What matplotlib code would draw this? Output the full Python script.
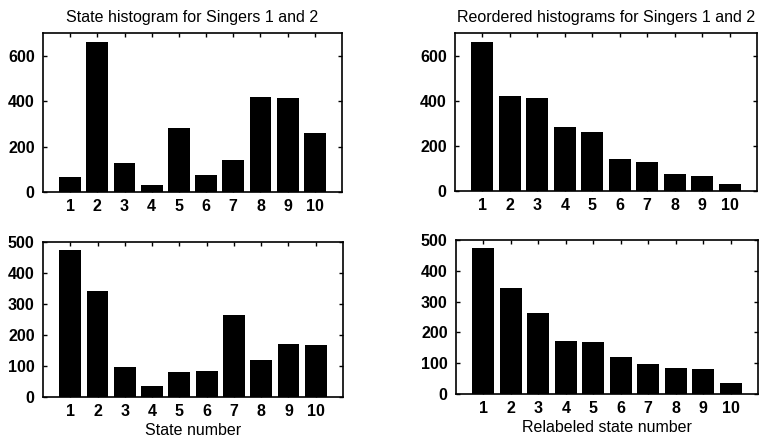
import numpy as np
import matplotlib
matplotlib.use("Agg")
import matplotlib.pyplot as plt

plt.rcParams['font.family'] = ['Liberation Sans', 'DejaVu Sans']

# State occupancy counts for the two singers
states = np.arange(1, 11)
singer1_counts = [67, 660, 127, 30, 282, 77, 142, 419, 414, 260]
singer2_counts = [474, 343, 98, 37, 82, 85, 263, 119, 171, 169]

# Relabel states by decreasing occupancy
singer1_sorted = sorted(singer1_counts, reverse=True)
singer2_sorted = sorted(singer2_counts, reverse=True)

W, H = 759, 441
fig = plt.figure(figsize=(W / 100, H / 100), dpi=100)


def axes_px(left, right, top, bottom):
    return fig.add_axes([left / W, 1 - bottom / H, (right - left) / W, (bottom - top) / H])


def draw(ax, values, ymax, yticks, title=None, xlabel=None):
    ax.bar(states, values, width=0.8, color='black', edgecolor='black', linewidth=0)
    ax.set_xlim(0, 11)
    ax.set_ylim(0, ymax)
    ax.set_xticks(states)
    ax.set_yticks(yticks)
    ax.tick_params(direction='in', length=3, width=1, top=True, right=True,
                   labelsize=11.5, colors='black')
    ax.tick_params(axis='y', pad=6)
    ax.tick_params(axis='x', pad=5)
    for lab in ax.get_xticklabels() + ax.get_yticklabels():
        lab.set_fontweight('bold')
    for sp in ax.spines.values():
        sp.set_linewidth(1.2)
        sp.set_color('black')
    if title:
        ax.set_title(title, fontsize=11.5, pad=8)
    if xlabel:
        ax.set_xlabel(xlabel, fontsize=11.5, labelpad=3)


ax1 = axes_px(43, 342, 33, 192)
draw(ax1, singer1_counts, 700, [0, 200, 400, 600], title='State histogram for Singers 1 and 2')

ax2 = axes_px(455, 757, 33, 191)
draw(ax2, singer1_sorted, 700, [0, 200, 400, 600], title='Reordered histograms for Singers 1 and 2')

ax3 = axes_px(43, 343, 242, 397)
draw(ax3, singer2_counts, 500, [0, 100, 200, 300, 400, 500], xlabel='State number')

ax4 = axes_px(456, 758, 240, 394)
draw(ax4, singer2_sorted, 500, [0, 100, 200, 300, 400, 500], xlabel='Relabeled state number')

fig.savefig('out.png', dpi=100)
